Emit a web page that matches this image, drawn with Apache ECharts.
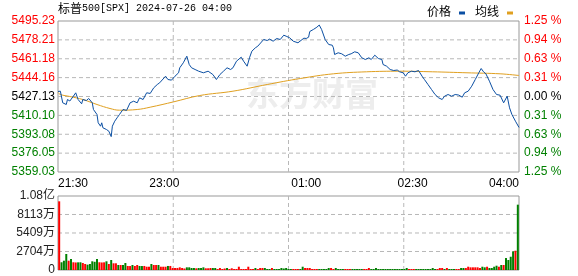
<!DOCTYPE html>
<html><head><meta charset="utf-8">
<script src="https://cdn.jsdelivr.net/npm/echarts@6/dist/echarts.min.js"></script>
<style>html,body{margin:0;padding:0;background:#fff}#c{width:578px;height:276px}</style>
</head><body><div id="c"></div>
<script>
// ---- data ----
const prevClose = 5427.13;
const priceMin = 5359.03, priceMax = 5495.23;
const priceTicks = [5359.03,5376.05,5393.08,5410.10,5427.13,5444.16,5461.18,5478.21,5495.23];
const priceTickLabels = ['5359.03','5376.05','5393.08','5410.10','5427.13','5444.16','5461.18','5478.21','5495.23'];
const pctTickLabels = ['1.25 %','0.94 %','0.63 %','0.31 %','0.00 %','0.31 %','0.63 %','0.94 %','1.25 %'];
const timeTickMinutes = [0,90,210,300,390];
const timeTickLabels = ['21:30','23:00','01:00','02:30','04:00'];
const gridMinutes = [97.5,195,292.5];
const volMax = 10818;
const volTicks = [0,2704.5,5409,8113.5,10818];
const volTickLabels = ['0','2704万','5409万','8113万','1.08亿'];

// minutes after 21:30
const priceMinutes = [0,2,4,7,8,10,13,15,17,20,21,24,26,29,30,33,34,36,37,38,41,43,45,46,48,50,52,55,58,61,64,67,69,72,75,78,81,84,86,91,93,96,99,102,103,106,109,111,113,116,119,123,127,131,134,137,140,143,146,148,151,155,157,160,162,164,167,169,174,177,179,182,185,188,191,193,196,199,203,208,210,212,213,216,219,221,223,226,229,232,233,234,237,240,243,246,248,251,254,257,260,263,265,268,271,274,275,278,281,284,287,289,292,294,296,299,302,305,308,310,313,316,319,322,325,327,330,333,336,339,342,344,347,350,353,356,358,360,362,365,368,371,374,377,380,382,384,387,390];
const prices = [5431.64,5431.91,5421.45,5419.91,5424.42,5423.07,5427.40,5430.47,5424.42,5420.54,5424.42,5423.52,5425.32,5421.45,5415.40,5410.89,5403.41,5400.34,5403.41,5398.90,5397.36,5395.83,5390.95,5400.34,5404.85,5407.92,5410.89,5415.40,5414.60,5421.45,5422.89,5421.45,5425.96,5424.42,5430.47,5429.90,5434.98,5437.95,5439.49,5445.44,5442.46,5441.90,5445.44,5448.51,5453.02,5457.53,5463.48,5455.99,5453.02,5451.48,5449.95,5448.51,5449.95,5446.97,5442.46,5446.97,5449.95,5453.02,5451.48,5453.02,5458.97,5462.58,5458.97,5454.46,5462.04,5467.99,5471.06,5472.50,5478.54,5477.64,5478.90,5477.01,5479.45,5478.54,5482.42,5481.52,5480.08,5477.01,5475.57,5479.72,5479.45,5480.62,5485.76,5487.56,5489.64,5491.59,5487.56,5478.54,5474.03,5473.40,5471.06,5465.01,5466.55,5465.65,5463.48,5465.01,5465.65,5467.45,5466.55,5462.04,5460.50,5462.04,5460.50,5464.38,5461.41,5460.50,5455.99,5454.46,5451.48,5450.58,5451.00,5449.41,5448.51,5445.44,5448.51,5449.95,5449.41,5450.58,5445.44,5442.46,5437.95,5433.44,5428.93,5425.96,5424.42,5427.40,5428.93,5427.40,5428.93,5428.40,5426.50,5430.47,5431.91,5436.42,5442.46,5448.51,5452.38,5449.41,5447.60,5440.93,5433.44,5428.93,5428.30,5421.45,5427.40,5416.94,5410.89,5404.85,5399.22];

const avgMinutes = [0,2,10,21,33,44,52,67,78,98,120,148,177,205,233,261,289,317,346,374,390];
const avgPrices = [5430.74,5428.93,5427.13,5424.42,5419.91,5416.30,5414.77,5415.40,5417.48,5422.35,5428.03,5431.91,5437.95,5443.37,5447.60,5449.41,5449.95,5449.41,5448.51,5447.60,5446.07];

// volume in 万, one bar per 2 minutes (bar k covers minutes 2k..2k+1)
const volumes = [10040,1130,1360,2340,1360,1610,1130,1100,1120,1130,
1020,880,780,880,1270,1200,1610,1130,1100,1120,
1270,880,1460,980,980,730,730,730,1020,590,
580,730,590,730,590,580,590,480,480,880,
730,730,730,480,480,480,590,590,290,290,
300,390,290,220,390,390,290,290,250,290,
290,390,250,250,290,290,290,150,290,150,
220,290,150,250,150,150,480,150,150,150,
480,150,150,290,150,290,290,290,150,150,
290,150,150,150,290,220,290,150,150,150,
150,150,150,480,290,290,290,150,150,150,
150,150,150,150,290,290,150,290,150,150,
150,150,150,150,150,150,150,150,150,150,
150,290,150,150,290,150,150,150,150,150,
150,150,150,150,150,150,150,290,150,150,
150,150,150,150,150,150,150,150,290,150,
150,290,290,150,290,150,150,150,150,150,
290,290,290,480,390,390,390,390,290,480,
390,480,290,290,480,630,480,730,730,1750,
1460,1940,2730,2820,9550];
// 1 = up (red), 0 = down (green)
const volUp = [1,0,0,0,1,0,1,1,0,0,
1,1,0,0,0,0,0,1,1,1,
0,1,0,1,1,0,1,0,0,1,
1,0,1,1,0,0,1,1,1,0,
1,1,0,1,1,1,0,1,1,1,
1,1,1,1,0,0,0,0,1,0,
0,0,1,1,1,0,0,1,1,1,
1,0,1,1,1,1,1,1,1,1,
1,1,1,0,1,1,1,0,0,0,
1,0,0,0,0,0,0,0,0,1,
1,1,0,0,1,1,1,1,1,1,
0,0,0,0,0,1,1,0,0,0,
0,1,1,1,0,0,0,0,0,1,
1,1,0,0,0,0,0,0,0,0,
0,0,0,0,0,0,0,0,1,1,
1,0,0,0,0,0,0,0,0,0,
1,1,1,0,1,0,0,0,1,1,
0,0,1,1,1,1,1,1,1,0,
0,1,0,0,0,0,1,0,1,0,
0,0,0,1,0];

// ---- build ----
const RED = '#ff0000', GREEN = '#008000', BLACK = '#000000';
const FONT = '"Liberation Sans", Arial, "Noto Sans CJK SC", sans-serif';
const priceData = priceMinutes.map((m, i) => [m, prices[i]]);
const avgData = avgMinutes.map((m, i) => [m, avgPrices[i]]);
const volData = volumes.map((v, k) => ({
  value: [2 * k + 1, v],
  itemStyle: { color: volUp[k] ? RED : GREEN }
}));
function tickIdx(arr, v) {
  let best = 0, bd = Infinity;
  arr.forEach((t, i) => { const d = Math.abs(t - v); if (d < bd) { bd = d; best = i; } });
  return best;
}
function colorKey(i) { return i > 4 ? 'r' : (i < 4 ? 'g' : 'k'); }
const richColors = {
  r: { color: RED, fontSize: 12, fontFamily: FONT },
  g: { color: GREEN, fontSize: 12, fontFamily: FONT },
  k: { color: BLACK, fontSize: 12, fontFamily: FONT }
};
const gridLineStyle = { color: '#b8b8b8', type: [4, 3], width: 1 };

// grid lines as plain line series, placed through the axes' scales
function gridSeries(xi, yi, pts) {
  return {
    type: 'line', xAxisIndex: xi, yAxisIndex: yi, data: pts,
    showSymbol: false, symbol: 'none', silent: true, z: 3,
    lineStyle: gridLineStyle, emphasis: { disabled: true }, tooltip: { show: false }
  };
}
const gridLineSeries = []
  .concat(priceTicks.slice(1, -1).map(v => gridSeries(0, 0, [[0, v], [390, v]])))
  .concat(gridMinutes.map(m => gridSeries(0, 0, [[m, priceMin], [m, priceMax]])))
  .concat(volTicks.slice(1, -1).map(v => gridSeries(1, 2, [[0, v], [390, v]])))
  .concat(gridMinutes.map(m => gridSeries(1, 2, [[m, 0], [m, volMax]])));

const chart = echarts.init(document.getElementById('c'), null, { renderer: 'canvas', width: 578, height: 276 });
chart.setOption({
  animation: false,
  backgroundColor: '#ffffff',
  textStyle: { fontFamily: FONT },
  legend: {
    data: ['价格', '均线'],
    right: 60, top: 2,
    align: 'right',
    icon: 'rect',
    itemWidth: 6, itemHeight: 3,
    itemGap: 10,
    textStyle: { fontSize: 12, color: '#000', fontFamily: FONT, padding: [0, 3, 0, 0] }
  },
  graphic: [
    {
      type: 'text', left: 58, top: 2, z: 10,
      style: {
        text: '{a|标普}{b|500[SPX] 2024-07-26 04:00}',
        rich: {
          a: { fontSize: 12, fontFamily: '"Noto Sans CJK SC"', fill: '#000' },
          b: { fontSize: 10, fontFamily: '"Liberation Mono", monospace', fill: '#000' }
        }
      }
    },
    {
      type: 'text', left: 246, top: 77, z: 0, silent: true,
      style: { text: '东方财富', font: 'bold 33px "Noto Sans CJK SC"', fill: '#ededed' }
    }
  ],
  grid: [
    { left: 58, top: 21, width: 461, height: 151, show: true, borderColor: '#999', borderWidth: 1, backgroundColor: 'rgba(0,0,0,0)', z: 0 },
    { left: 58, top: 196, width: 461, height: 74, show: true, borderColor: '#999', borderWidth: 1, backgroundColor: 'rgba(0,0,0,0)', z: 0 }
  ],
  xAxis: [
    {
      gridIndex: 0, type: 'value', min: 0, max: 390,
      axisLine: { show: false },
      axisTick: { show: false },
      splitLine: { show: false },
      axisLabel: {
        customValues: timeTickMinutes,
        formatter: v => timeTickLabels[tickIdx(timeTickMinutes, v)],
        color: '#000', fontSize: 12, margin: 6, fontFamily: FONT,
        alignMinLabel: 'left', alignMaxLabel: 'right'
      }
    },
    {
      gridIndex: 1, type: 'value', min: 0, max: 390,
      axisLine: { show: false },
      axisTick: { show: false },
      splitLine: { show: false },
      axisLabel: { show: false }
    }
  ],
  yAxis: [
    {
      gridIndex: 0, type: 'value', position: 'left', min: priceMin, max: priceMax,
      axisLine: { show: false },
      axisTick: { show: false },
      splitLine: { show: false },
      axisLabel: {
        customValues: priceTicks, margin: 3,
        formatter: v => { const i = tickIdx(priceTicks, v); return '{' + colorKey(i) + '|' + priceTickLabels[i] + '}'; },
        rich: richColors
      }
    },
    {
      gridIndex: 0, type: 'value', position: 'right', min: priceMin, max: priceMax,
      axisLine: { show: false },
      axisTick: { show: false },
      splitLine: { show: false },
      axisLabel: {
        customValues: priceTicks, margin: 5,
        formatter: v => { const i = tickIdx(priceTicks, v); return '{' + colorKey(i) + '|' + pctTickLabels[i] + '}'; },
        rich: richColors
      }
    },
    {
      gridIndex: 1, type: 'value', min: 0, max: volMax, interval: 2704.5,
      axisLine: { show: false },
      axisTick: { show: false },
      splitLine: { show: false },
      axisLabel: {
        margin: 3, fontSize: 12, color: '#222', fontFamily: FONT,
        formatter: v => volTickLabels[tickIdx(volTicks, v)]
      }
    }
  ],
  series: gridLineSeries.concat([
    {
      name: '价格', type: 'line', xAxisIndex: 0, yAxisIndex: 0, data: priceData,
      showSymbol: false, symbol: 'none', z: 5,
      lineStyle: { color: '#0b4fa3', width: 1 }, itemStyle: { color: '#0b4fa3' }
    },
    {
      name: '均线', type: 'line', xAxisIndex: 0, yAxisIndex: 0, data: avgData,
      showSymbol: false, symbol: 'none', smooth: 0.4, z: 4,
      lineStyle: { color: '#e0a020', width: 1 }, itemStyle: { color: '#e0a020' }
    },
    {
      name: '成交量', type: 'bar', xAxisIndex: 1, yAxisIndex: 2, data: volData,
      barWidth: 2, z: 4
    }
  ])
});
</script>
</body></html>
